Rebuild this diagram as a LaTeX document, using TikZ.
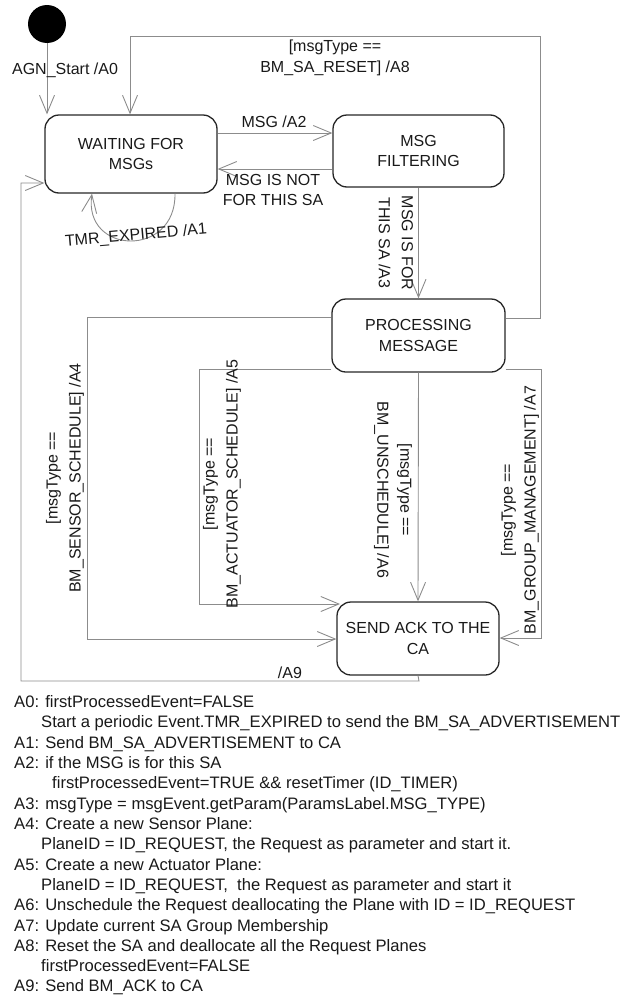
\documentclass[tikz,border=0pt]{standalone}
\usepackage{fontspec}
\setmainfont{Liberation Sans}
\usetikzlibrary{arrows.meta}
\newcommand\lblfont{\fontsize{16}{20.5}\selectfont}
\newcommand\rotfont{\fontsize{16}{23}\selectfont}
\newcommand\listfont{\fontsize{16.6}{20.3}\selectfont}
\begin{document}
\begin{tikzpicture}[x=1pt,y=-1pt,
  state/.style={draw=black!85, line width=1.3pt, rounded corners=14pt,
    align=center, font=\lblfont, text=black!90, inner sep=0pt},
  conn/.style={draw=black!45, line width=0.9pt,
    -{Straight Barb[length=18pt,width=15pt]}},
  lab/.style={font=\lblfont, text=black!90, align=center, inner sep=0pt},
  rlab/.style={font=\rotfont, text=black!90, align=center, inner sep=0pt},
  item/.style={font=\listfont, text=black!90, inner sep=0pt, anchor=base west}]
\useasboundingbox (0,0) rectangle (627,996);

% states
\node[circle, fill=black, minimum size=38pt, inner sep=0pt] (init) at (47,24) {};
\node[state, minimum width=172pt, minimum height=78pt] (wait) at (131,154) {WAITING FOR\\MSGs};
\node[state, minimum width=171pt, minimum height=72pt] (filt) at (418.5,151) {MSG\\FILTERING};
\node[state, minimum width=173pt, minimum height=73pt] (proc) at (418.5,335.5) {PROCESSING\\MESSAGE};
\node[state, minimum width=162pt, minimum height=73pt] (ack) at (418,638.5) {SEND ACK TO THE\\CA};

% transitions
\draw[conn] (init) -- (init |- wait.north);
\node[lab] (lagn) at (65,70) {AGN\_Start /A0};

\draw[conn] (wait.east |- 0,133) -- (filt.west |- 0,133);
\node[lab] (la2) at (274,122) {MSG /A2};

\draw[conn] (filt.west |- 0,169) -- (wait.east |- 0,169);
\node[lab] (lnot) at (273,190) {MSG IS NOT\\FOR THIS SA};

\draw[conn] ([xshift=44pt]wait.south) .. controls (176,258) and (83,255) .. ([xshift=-39pt]wait.south);
\node[lab, rotate=5] (ltmr) at (136,236) {TMR\_EXPIRED /A1};

\draw[conn] (filt.south) -- (proc.north);
\node[rlab, rotate=-90] (la3) at (396,243) {MSG IS FOR\\THIS SA /A3};

\draw[conn] (proc.east |- 0,318) -| (540,36) -| (wait.north -| 130,0);
\node[lab] (la8) at (335,58) {[msgType ==\\BM\_SA\_RESET] /A8};

\draw[conn] (proc.west |- 0,317) -| (87,639) -- (ack.west |- 0,639);
\node[rlab, rotate=90] (la4) at (65,478) {[msgType ==\\BM\_SENSOR\_SCHEDULE] /A4};

\draw[conn] (proc.west |- 0,369) -| (199,604) -- (340,604);
\node[rlab, rotate=90] (la5) at (222,484) {[msgType ==\\BM\_ACTUATOR\_SCHEDULE] /A5};

\draw[conn] (proc.south) -- (ack.north);
\node[rlab, rotate=-90] (la6) at (393,490) {[msgType ==\\BM\_UNSCHEDULE] /A6};

\draw[conn] (proc.east |- 0,369) -| (541,638) -- (ack.east |- 0,638);
\node[rlab, rotate=90] (la7) at (520,510) {[msgType ==\\BM\_GROUP\_MANAGEMENT] /A7};

\draw[conn] (ack.south) -- (419,681) -| (21,183) -- (wait.west |- 0,183);
\node[lab] (la9) at (290,673) {/A9};

% action list
\node[item] (t0) at (14,707) {A0: firstProcessedEvent=FALSE};
\node[item] (t1) at (41,727) {Start a periodic Event.TMR\_EXPIRED to send the BM\_SA\_ADVERTISEMENT};
\node[item] (t2) at (14,748) {A1: Send BM\_SA\_ADVERTISEMENT to CA};
\node[item] (t3) at (14,768) {A2: if the MSG is for this SA};
\node[item] (t4) at (52,788) {firstProcessedEvent=TRUE \&\& resetTimer (ID\_TIMER)};
\node[item] (t5) at (14,809) {A3: msgType = msgEvent.getParam(ParamsLabel.MSG\_TYPE)};
\node[item] (t6) at (14,829) {A4: Create a new Sensor Plane:};
\node[item] (t7) at (41,849) {PlaneID = ID\_REQUEST, the Request as parameter and start it.};
\node[item] (t8) at (14,870) {A5: Create a new Actuator Plane:};
\node[item] (t9) at (41,890) {PlaneID = ID\_REQUEST,\ \ the Request as parameter and start it};
\node[item] (t10) at (14,910) {A6: Unschedule the Request deallocating the Plane with ID = ID\_REQUEST};
\node[item] (t11) at (14,931) {A7: Update current SA Group Membership};
\node[item] (t12) at (14,951) {A8: Reset the SA and deallocate all the Request Planes};
\node[item] (t13) at (41,971) {firstProcessedEvent=FALSE};
\node[item] (t14) at (14,991) {A9: Send BM\_ACK to CA};
\end{tikzpicture}
\end{document}
